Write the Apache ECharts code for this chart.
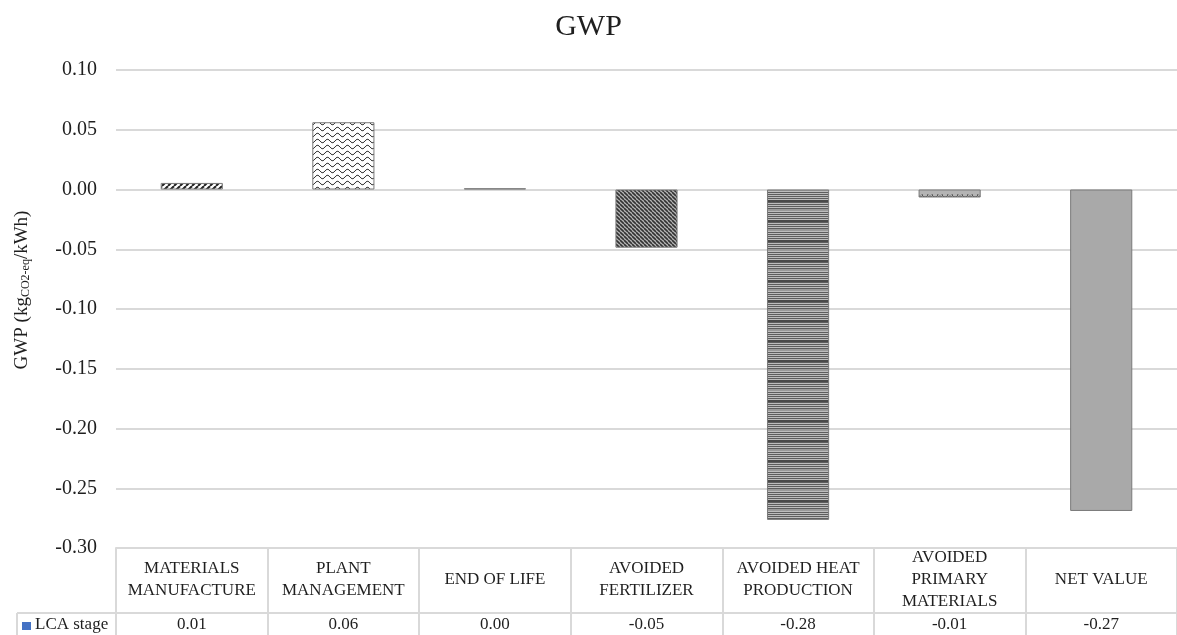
<!DOCTYPE html>
<html>
<head>
<meta charset="utf-8">
<script src="https://cdn.jsdelivr.net/npm/echarts@6/dist/echarts.min.js"></script>
<style>
  html, body { margin: 0; padding: 0; background: #fff; }
  #chart { width: 1177px; height: 635px; }
</style>
</head>
<body>
<div id="chart"></div>
<script>
// LCA stages and their global warming potential (kg CO2-eq per kWh)
const categories = [
  'MATERIALS\nMANUFACTURE',
  'PLANT\nMANAGEMENT',
  'END OF LIFE',
  'AVOIDED\nFERTILIZER',
  'AVOIDED HEAT\nPRODUCTION',
  'AVOIDED\nPRIMARY\nMATERIALS',
  'NET VALUE'
];
const gwpValues = [0.0055, 0.0563, 0.001, -0.0487, -0.2765, -0.0067, -0.269];
const seriesName = 'LCA stage';
const yTicks = { min: -0.30, max: 0.10, interval: 0.05 };

const FONT = '"Liberation Serif", "DejaVu Serif", serif';
const TEXT = '#1f1f1f';
const LINE = '#d9d9d9';

// Small repeating fills for the hatched bars
function tile(w, h, draw) {
  const c = document.createElement('canvas');
  c.width = w; c.height = h;
  draw(c.getContext('2d'), w, h);
  return { image: c, repeat: 'repeat' };
}
const fills = [
  // wide upward diagonal
  tile(6, 6, (g, w, h) => {
    g.fillStyle = '#fff'; g.fillRect(0, 0, w, h);
    g.strokeStyle = '#222'; g.lineWidth = 2;
    for (let k = -1; k <= 1; k++) {
      g.beginPath(); g.moveTo(k * w, h); g.lineTo(k * w + w, 0); g.stroke();
    }
  }),
  // wave
  tile(10, 6, (g, w, h) => {
    g.fillStyle = '#fff'; g.fillRect(0, 0, w, h);
    g.strokeStyle = '#333'; g.lineWidth = 1;
    g.beginPath();
    for (let x = 0; x <= w; x++) {
      const y = 3 + 1.8 * Math.sin((x / w) * Math.PI * 2);
      if (x === 0) g.moveTo(x, y); else g.lineTo(x, y);
    }
    g.stroke();
  }),
  // thin dark fill
  tile(4, 4, (g, w, h) => { g.fillStyle = '#555'; g.fillRect(0, 0, w, h); }),
  // dark downward diagonal
  tile(4, 4, (g, w, h) => {
    g.fillStyle = '#b8b8b8'; g.fillRect(0, 0, w, h);
    g.strokeStyle = '#333'; g.lineWidth = 1.6;
    for (let k = -1; k <= 1; k++) {
      g.beginPath(); g.moveTo(k * w, 0); g.lineTo(k * w + w, h); g.stroke();
    }
  }),
  // narrow horizontal
  tile(8, 20, (g, w, h) => {
    g.fillStyle = '#bdbdbd'; g.fillRect(0, 0, w, h);
    g.fillStyle = '#5e5e5e';
    for (let y = 0; y < h; y += 2) g.fillRect(0, y, w, 1);
    g.fillStyle = '#4a4a4a'; g.fillRect(0, 0, w, 2);
    g.fillStyle = '#9a9a9a'; g.fillRect(0, 9, w, 2);
  }),
  // shingle
  tile(10, 8, (g, w, h) => {
    g.fillStyle = '#b4b4b4'; g.fillRect(0, 0, w, h);
    g.strokeStyle = '#555'; g.lineWidth = 1;
    g.beginPath(); g.arc(5, 2, 3, 0, Math.PI); g.stroke();
    g.beginPath(); g.arc(0, 6, 2, Math.PI, 2 * Math.PI); g.stroke();
    g.beginPath(); g.arc(10, 6, 2, Math.PI, 2 * Math.PI); g.stroke();
  }),
  // solid
  '#a9a9a9'
];

const chart = echarts.init(document.getElementById('chart'), null, { renderer: 'canvas' });

const option = {
  backgroundColor: '#fff',
  animation: false,
  title: {
    text: 'GWP',
    left: 'center',
    top: 7,
    textStyle: { fontFamily: FONT, fontSize: 30, fontWeight: 'normal', color: TEXT }
  },
  grid: { left: 116, right: 0, top: 70, bottom: 87, containLabel: false, outerBoundsMode: 'none' },
  xAxis: [
    {
      type: 'category',
      data: categories,
      position: 'bottom',
      axisLine: { onZero: false, lineStyle: { color: LINE, width: 2 } },
      axisTick: { show: true, length: 87, lineStyle: { color: LINE, width: 2 } },
      axisLabel: {
        interval: 0,
        margin: 32,
        verticalAlign: 'middle',
        align: 'center',
        lineHeight: 22,
        fontFamily: FONT,
        fontSize: 17,
        color: TEXT
      }
    },
    {
      type: 'category',
      data: gwpValues.map(v => v.toFixed(2)),
      position: 'bottom',
      offset: 65,
      axisLine: { onZero: false, lineStyle: { color: LINE, width: 2 } },
      axisTick: { show: false },
      axisLabel: {
        interval: 0,
        margin: 12,
        verticalAlign: 'middle',
        fontFamily: FONT,
        fontSize: 17,
        color: TEXT
      }
    }
  ],
  yAxis: {
    type: 'value',
    min: yTicks.min,
    max: yTicks.max,
    interval: yTicks.interval,
    name: '{a|GWP (kg}{b|CO2-eq}{a|/kWh)}',
    nameLocation: 'middle',
    nameGap: 84,
    nameRotate: 90,
    nameTextStyle: {
      padding: [0, 0, 0, 38],
      rich: {
        a: { fontFamily: FONT, fontSize: 19, color: TEXT },
        b: { fontFamily: FONT, fontSize: 12, color: TEXT, verticalAlign: 'bottom', padding: [6, 0, 0, 0] }
      }
    },
    axisLine: { show: false },
    axisTick: { show: false },
    splitLine: { lineStyle: { color: LINE, width: 2 } },
    axisLabel: {
      margin: 19,
      fontFamily: FONT,
      fontSize: 20,
      color: TEXT,
      formatter: v => v.toFixed(2)
    }
  },
  series: [{
    name: seriesName,
    type: 'bar',
    xAxisIndex: 0,
    barWidth: '41%',
    data: gwpValues.map((v, i) => ({
      value: v,
      itemStyle: { color: fills[i], borderColor: '#7a7a7a', borderWidth: 1 }
    }))
  }]
};
chart.setOption(option);

// Legend key cell of the data table, aligned with the value row
const rowTop = chart.getHeight() - 22;
const rowLeft = 17;
const plotLeft = option.grid.left;
chart.setOption({
  graphic: [
    { type: 'line', shape: { x1: rowLeft, y1: rowTop, x2: plotLeft, y2: rowTop }, style: { stroke: LINE, lineWidth: 2 } },
    { type: 'line', shape: { x1: rowLeft, y1: rowTop, x2: rowLeft, y2: chart.getHeight() }, style: { stroke: LINE, lineWidth: 2 } },
    { type: 'line', shape: { x1: plotLeft, y1: rowTop, x2: plotLeft, y2: chart.getHeight() }, style: { stroke: LINE, lineWidth: 2 } },
    { type: 'rect', shape: { x: 22, y: rowTop + 9, width: 9, height: 8 }, style: { fill: '#4472c4' } },
    { type: 'text', x: 35, y: rowTop + 12, style: { text: seriesName, font: '17px ' + FONT, fill: TEXT, textVerticalAlign: 'middle' } }
  ]
});
</script>
</body>
</html>
